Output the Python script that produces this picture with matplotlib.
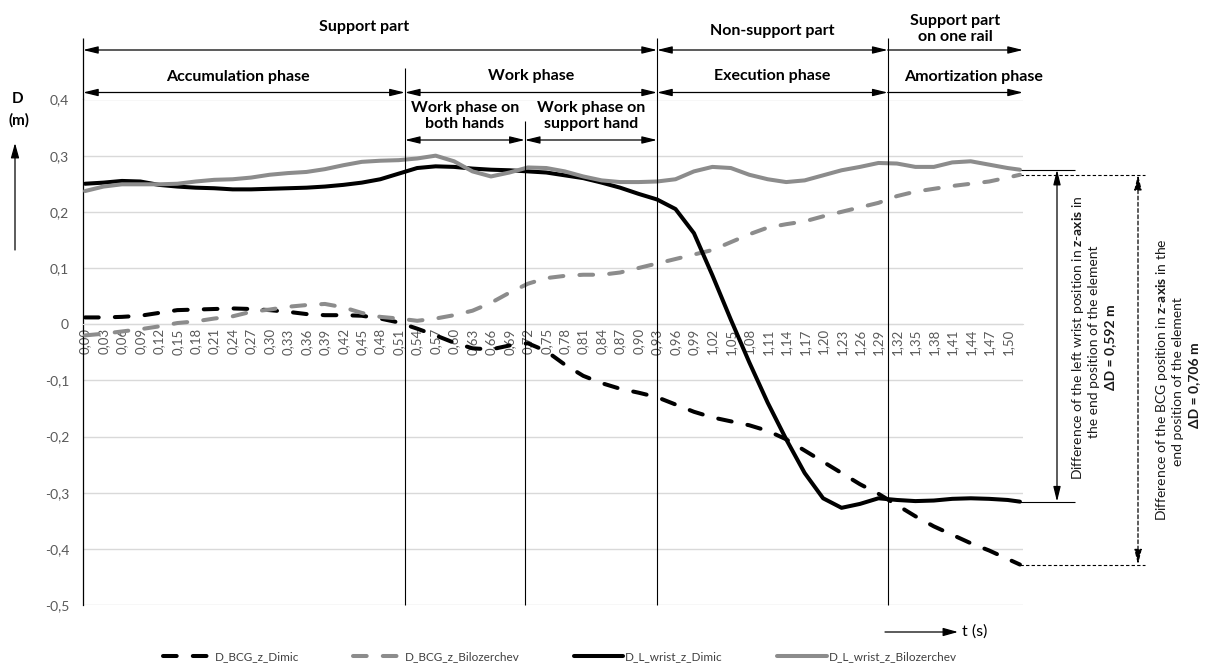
import matplotlib
matplotlib.use("Agg")
import matplotlib.pyplot as plt
import numpy as np

plt.rcParams['font.family'] = ['Lato', 'DejaVu Sans']
plt.rcParams['mathtext.fontset'] = 'custom'
plt.rcParams['mathtext.rm'] = 'Lato'
plt.rcParams['mathtext.bf'] = 'Lato:bold'

# time (s), read every 0.03 s plus the last sample
t = np.round(np.arange(0, 1.51, 0.03), 2).tolist() + [1.52]

bcg_dimic = [0.012, 0.012, 0.013, 0.015, 0.020, 0.025, 0.026, 0.027, 0.028, 0.027,
             0.025, 0.022, 0.018, 0.016, 0.016, 0.015, 0.010, 0.003, -0.008, -0.020,
             -0.033, -0.043, -0.045, -0.038, -0.034, -0.048, -0.072, -0.092, -0.105, -0.115,
             -0.122, -0.130, -0.143, -0.156, -0.166, -0.173, -0.180, -0.190, -0.205, -0.225,
             -0.245, -0.265, -0.285, -0.302, -0.322, -0.342, -0.360, -0.375, -0.390, -0.403,
             -0.418, -0.428]
bcg_bilozerchev = [-0.020, -0.017, -0.013, -0.009, -0.004, 0.002, 0.005, 0.010, 0.014, 0.022,
                   0.026, 0.031, 0.034, 0.036, 0.030, 0.020, 0.013, 0.010, 0.006, 0.010,
                   0.016, 0.024, 0.038, 0.056, 0.072, 0.082, 0.086, 0.088, 0.088, 0.092,
                   0.100, 0.108, 0.116, 0.124, 0.132, 0.146, 0.160, 0.172, 0.178, 0.183,
                   0.192, 0.200, 0.208, 0.216, 0.228, 0.236, 0.241, 0.246, 0.250, 0.254,
                   0.261, 0.266]
wrist_dimic = [0.250, 0.252, 0.255, 0.254, 0.248, 0.245, 0.243, 0.242, 0.240, 0.240,
               0.241, 0.242, 0.243, 0.245, 0.248, 0.252, 0.258, 0.268, 0.278, 0.281,
               0.280, 0.277, 0.275, 0.274, 0.272, 0.270, 0.265, 0.260, 0.252, 0.243,
               0.232, 0.222, 0.205, 0.162, 0.087, 0.008, -0.068, -0.140, -0.205, -0.265,
               -0.310, -0.327, -0.320, -0.310, -0.313, -0.315, -0.314, -0.311, -0.310, -0.311,
               -0.313, -0.316]
wrist_bilozerchev = [0.237, 0.245, 0.249, 0.249, 0.249, 0.250, 0.254, 0.257, 0.258, 0.261,
                     0.266, 0.269, 0.271, 0.276, 0.283, 0.289, 0.291, 0.292, 0.295, 0.300,
                     0.290, 0.272, 0.263, 0.270, 0.279, 0.278, 0.272, 0.263, 0.256, 0.253,
                     0.253, 0.254, 0.258, 0.272, 0.280, 0.278, 0.266, 0.258, 0.253, 0.256,
                     0.265, 0.274, 0.280, 0.287, 0.286, 0.280, 0.280, 0.288, 0.290, 0.284,
                     0.278, 0.275]

series_names = ['D_BCG_z_Dimic', 'D_BCG_z_Bilozerchev', 'D_L_wrist_z_Dimic', 'D_L_wrist_z_Bilozerchev']

# phase borders (s)
phase_t = [0.52, 0.715, 0.93, 1.305]

xticks = np.round(np.arange(0, 1.51, 0.03), 2)
yticks = np.round(np.arange(-0.5, 0.41, 0.1), 1)

GRAY = '#8c8c8c'
TXT = '#595959'

W, H = 1206, 670
fig = plt.figure(figsize=(W / 100, H / 100), dpi=100)
ax = fig.add_axes([83 / W, 65 / H, 940 / W, 505.5 / H])
X0, X1 = -0.0033, 1.525
ax.set_xlim(X0, X1)
ax.set_ylim(-0.5, 0.4)


def yd(py):  # picture row -> data y
    return 0.4 + (99.5 - py) * 0.9 / 505.5


def xd(px):  # picture column -> data x
    return X0 + (px - 83) * (X1 - X0) / 940


lw = 2.9
ax.plot(t, bcg_dimic, color='black', lw=lw, dashes=(3.4, 4.0), dash_capstyle='round', label=series_names[0], zorder=3)
ax.plot(t, bcg_bilozerchev, color=GRAY, lw=lw, dashes=(3.4, 4.0), dash_capstyle='round', label=series_names[1], zorder=3)
ax.plot(t, wrist_dimic, color='black', lw=lw, solid_capstyle='round', solid_joinstyle='round', label=series_names[2], zorder=3)
ax.plot(t, wrist_bilozerchev, color=GRAY, lw=lw, solid_capstyle='round', solid_joinstyle='round', label=series_names[3], zorder=3)

# x axis crosses at 0 (set before the tick labels, it resets the ticks)
ax.spines['bottom'].set_position(('data', 0))
ax.spines['bottom'].set_color('#d9d9d9')
ax.spines['top'].set_visible(False)
ax.spines['right'].set_visible(False)
ax.spines['left'].set_color('black')
ax.spines['left'].set_linewidth(0.9)

ax.set_xticks(xticks)
ax.set_xticklabels([f"{v:.2f}".replace('.', ',') for v in xticks])
ax.set_yticks(yticks)
ax.set_yticklabels(['0' if v == 0 else f"{v:.1f}".replace('.', ',') for v in yticks])
ax.tick_params(axis='x', length=0, pad=3, labelrotation=90, labelsize=9.5, labelcolor=TXT)
ax.tick_params(axis='y', length=0, pad=10, labelsize=10, labelcolor=TXT)
ax.grid(axis='y', color='#d9d9d9', lw=1)
ax.set_axisbelow(True)

# phase borders
ax.vlines([X0], 0.4, yd(38), color='black', lw=0.9, clip_on=False)
ax.vlines(phase_t, -0.5, [yd(68), yd(121), yd(38), yd(38)], color='black', lw=0.8, zorder=6, clip_on=False)


def arrow(p0, p1, style='<|-|>', ls='-'):
    ax.annotate('', xy=p1, xytext=p0, xycoords='data', annotation_clip=False,
                arrowprops=dict(arrowstyle=style + ',head_length=0.9,head_width=0.22', color='black',
                                lw=0.9, ls=ls, shrinkA=0, shrinkB=0, mutation_scale=10))


ya, yb, yc = yd(50), yd(92.5), yd(140)
arrow((X0, ya), (phase_t[2], ya))
arrow((phase_t[2], ya), (phase_t[3], ya))
arrow((phase_t[3], ya), (X1, ya), '-|>')
arrow((X0, yb), (phase_t[0], yb))
arrow((phase_t[0], yb), (phase_t[2], yb))
arrow((phase_t[2], yb), (phase_t[3], yb))
arrow((phase_t[3], yb), (X1, yb), '-|>')
arrow((phase_t[0], yc), (phase_t[1], yc))
arrow((phase_t[1], yc), (phase_t[2], yc))

lab = dict(ha='center', va='center', fontsize=11.5, fontweight='bold', clip_on=False, linespacing=1.1)
ax.text((X0 + phase_t[2]) / 2 - 0.01, yd(27), 'Support part', **lab)
ax.text((phase_t[2] + phase_t[3]) / 2, yd(31), 'Non-support part', **lab)
ax.text((phase_t[3] + X1) / 2, yd(29), 'Support part\non one rail', **lab)
ax.text((X0 + phase_t[0]) / 2 - 0.01, yd(77), 'Accumulation phase', **lab)
ax.text((phase_t[0] + phase_t[2]) / 2, yd(76), 'Work phase', **lab)
ax.text((phase_t[2] + phase_t[3]) / 2, yd(76), 'Execution phase', **lab)
ax.text((phase_t[3] + X1) / 2 + 0.03, yd(77), 'Amortization phase', **lab)
ax.text((phase_t[0] + phase_t[1]) / 2, yd(116), 'Work phase on\nboth hands', **lab)
ax.text((phase_t[1] + phase_t[2]) / 2, yd(116), 'Work phase on\nsupport hand', **lab)

# differences at the end of the element
xs, xsa = xd(1075), xd(1057)
xdsh, xdsha = xd(1145), xd(1138)
ax.hlines([wrist_bilozerchev[-1], wrist_dimic[-1]], t[-1], xs, color='black', lw=0.8, clip_on=False)
arrow((xsa, wrist_bilozerchev[-1]), (xsa, wrist_dimic[-1]))
ax.hlines([bcg_bilozerchev[-1], bcg_dimic[-1]], t[-1], xdsh, color='black', lw=0.8,
          linestyles=(0, (3, 2)), clip_on=False)
arrow((xdsha, bcg_bilozerchev[-1]), (xdsha, bcg_dimic[-1]), ls=(0, (3, 2)))

rt = dict(rotation=90, ha='center', va='center', fontsize=10, color='#1a1a1a', clip_on=False)
ax.text(xd(1078), yd(338), r'Difference of the left wrist position in $\mathbf{z}$-$\mathbf{axis}$ in', **rt)
ax.text(xd(1094), yd(342), 'the end position of the element', **rt)
ax.text(xd(1110), yd(347), 'ΔD = 0,592 m', fontweight='bold', **rt)
ax.text(xd(1162), yd(380), r'Difference of the BCG position in $\mathbf{z}$-$\mathbf{axis}$ in the', **rt)
ax.text(xd(1178), yd(382), 'end position of the element', **rt)
ax.text(xd(1194), yd(385), 'ΔD = 0,706 m', fontweight='bold', **rt)

# axis titles
fig.text(18 / W, 1 - 99 / H, 'D', ha='center', va='center', fontsize=11, fontweight='bold')
fig.text(19 / W, 1 - 120 / H, '(m)', ha='center', va='center', fontsize=11, fontweight='bold')
fig.text(962 / W, 1 - 632 / H, 't (s)', ha='left', va='center', fontsize=11.5)
ap = dict(arrowstyle='-|>,head_length=0.9,head_width=0.25', color='black', lw=0.9,
          shrinkA=0, shrinkB=0, mutation_scale=10)
fig.add_artist(matplotlib.patches.FancyArrowPatch((15, H - 250), (15, H - 143), transform=None, **ap))
fig.add_artist(matplotlib.patches.FancyArrowPatch((885, H - 632), (958, H - 632), transform=None, **ap))

fig.legend(loc='center', bbox_to_anchor=(560 / W, 1 - 657 / H), ncol=4, frameon=False, fontsize=8.5,
           handlelength=4.2, handletextpad=0.15, columnspacing=4.6, labelcolor='#404040')

fig.savefig('out.png', dpi=100)
